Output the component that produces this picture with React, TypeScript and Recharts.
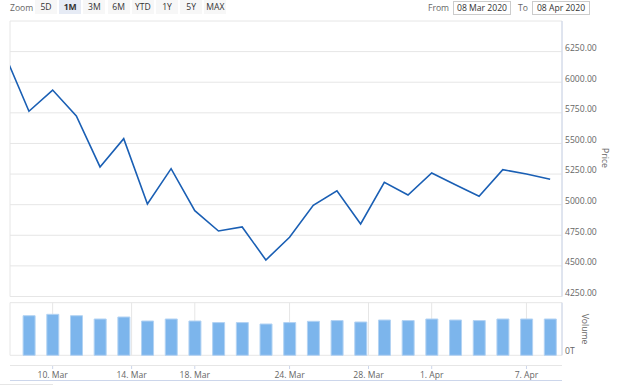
import { Bar, CartesianGrid, ComposedChart, Line, XAxis, YAxis } from "recharts";

// trading days shown in the 1M window (first one sits just left of the plot)
const dates = [
    "06 Mar", "09 Mar", "10 Mar", "11 Mar", "12 Mar", "13 Mar",
    "16 Mar", "17 Mar", "18 Mar", "19 Mar", "20 Mar",
    "23 Mar", "24 Mar", "25 Mar", "26 Mar", "27 Mar",
    "30 Mar", "31 Mar", "01 Apr", "02 Apr", "03 Apr",
    "06 Apr", "07 Apr", "08 Apr",
];
const prices = [
    6217, 5763, 5936, 5724, 5308, 5539,
    5005, 5294, 4951, 4785, 4818,
    4548, 4734, 4995, 5114, 4842,
    5183, 5079, 5259, 5163, 5068,
    5286, 5250, 5207,
];
const volumes = [
    null, 7.53, 7.79, 7.53, 6.9, 7.28,
    6.52, 6.9, 6.52, 6.22, 6.22,
    5.95, 6.22, 6.46, 6.6, 6.33,
    6.71, 6.6, 6.9, 6.71, 6.6,
    6.9, 6.9, 6.9,
];
// ordinal positions of the axis labels (weekend dates fall between trading days)
const tickPositions = [2, 5.333, 8, 12, 15.333, 18, 22];
const tickLabels = ["10. Mar", "14. Mar", "18. Mar", "24. Mar", "28. Mar", "1. Apr", "7. Apr"];
const priceTicks = [4250, 4500, 4750, 5000, 5250, 5500, 5750, 6000, 6250, 6500];
const zoomButtons = ["5D", "1M", "3M", "6M", "YTD", "1Y", "5Y", "MAX"];

const rows = dates.map((date, i) => ({ i, date, price: prices[i], volume: volumes[i] }));

const FONT = "'Open Sans', 'DejaVu Sans', sans-serif";
const xDomain: [number, number] = [0.2, 23.5];

function PriceTick({ y, payload }: any) {
    if (payload.value === 6500) return <g />;
    return (
        <text x={565} y={y - 3} fill="#666" fontSize={8.6} fontFamily={FONT} dominantBaseline="middle">
            {payload.value.toFixed(2)}
        </text>
    );
}

function VolumeTick({ y, payload }: any) {
    if (payload.value !== 0) return <g />;
    return (
        <text x={565} y={y - 4} fill="#666" fontSize={8.6} fontFamily={FONT} dominantBaseline="middle">
            0T
        </text>
    );
}

function DateTick({ x, payload }: any) {
    const label = tickLabels[tickPositions.indexOf(payload.value)];
    return (
        <g>
            <line x1={x} x2={x} y1={65} y2={69} stroke="#ccd6eb" />
            <text x={x} y={76} textAnchor="middle" dominantBaseline="middle" fill="#666" fontSize={8.6} fontFamily={FONT}>
                {label}
            </text>
        </g>
    );
}

// rotated axis title, like Highcharts puts on an opposite axis
function axisTitle(text: string, x: number, y: number) {
    return () => (
        <text
            x={x}
            y={y}
            transform={`rotate(90, ${x}, ${y})`}
            textAnchor="middle"
            dominantBaseline="middle"
            fill="#666"
            fontSize={8.6}
            fontFamily={FONT}
        >
            {text}
        </text>
    );
}

function Toolbar() {
    return (
        <div style={{ position: "absolute", left: 0, top: 0, width: 624, height: 16, fontFamily: FONT, fontSize: 8.6 }}>
            <span style={{ position: "absolute", left: 10, top: 2, color: "#666" }}>Zoom</span>
            {zoomButtons.map((b, k) => {
                const active = b === "1M";
                return (
                    <div
                        key={b}
                        style={{
                            position: "absolute",
                            left: 35 + k * 24.2,
                            top: 0,
                            width: 22,
                            height: 14,
                            lineHeight: "14px",
                            textAlign: "center",
                            background: active ? "#e6ebf5" : "#f7f7f7",
                            color: "#333",
                            fontWeight: active ? 700 : 400,
                        }}
                    >
                        {b}
                    </div>
                );
            })}
            <span style={{ position: "absolute", left: 428, top: 2, color: "#666" }}>From</span>
            <div style={boxStyle(453)}>08 Mar 2020</div>
            <span style={{ position: "absolute", left: 518, top: 2, color: "#666" }}>To</span>
            <div style={boxStyle(532)}>08 Apr 2020</div>
        </div>
    );
}

function boxStyle(left: number): React.CSSProperties {
    return {
        position: "absolute",
        left,
        top: 1,
        width: 56,
        height: 12,
        lineHeight: "12px",
        textAlign: "center",
        border: "1px solid #cccccc",
        color: "#333",
        background: "#fff",
    };
}

export default function App() {
    return (
        <div style={{ position: "fixed", left: 0, top: 0, width: 624, height: 386, background: "#fff", overflow: "hidden" }}>
            <Toolbar />
            <div style={{ position: "absolute", left: 0, top: 0 }}>
                <ComposedChart width={624} height={300} data={rows} margin={{ top: 21, right: 0, left: 10, bottom: 3.5 }}>
                    <CartesianGrid stroke="#e6e6e6" />
                    <XAxis
                        dataKey="i"
                        type="number"
                        domain={xDomain}
                        allowDataOverflow
                        ticks={tickPositions}
                        height={0}
                        tick={false}
                        axisLine={false}
                        tickLine={false}
                    />
                    <YAxis
                        orientation="right"
                        width={62}
                        domain={[4250, 6500]}
                        ticks={priceTicks}
                        interval={0}
                        tick={<PriceTick />}
                        tickLine={false}
                        axisLine={{ stroke: "#ccd6eb" }}
                        label={{ content: axisTitle("Price", 604, 158) }}
                    />
                    <Line dataKey="price" stroke="#1a5fb4" strokeWidth={1.6} dot={false} isAnimationActive={false} />
                </ComposedChart>
            </div>
            <div style={{ position: "absolute", left: 0, top: 300 }}>
                <ComposedChart width={624} height={86} data={rows} margin={{ top: 2.7, right: 0, left: 10, bottom: 0 }}>
                    <CartesianGrid stroke="#e6e6e6" />
                    <XAxis
                        dataKey="i"
                        type="number"
                        domain={xDomain}
                        allowDataOverflow
                        ticks={tickPositions}
                        interval={0}
                        height={30.7}
                        tick={<DateTick />}
                        axisLine={false}
                        tickLine={false}
                    />
                    <YAxis
                        orientation="right"
                        width={62}
                        domain={[0, 10]}
                        ticks={[0, 10]}
                        tick={<VolumeTick />}
                        tickLine={false}
                        axisLine={{ stroke: "#ccd6eb" }}
                        label={{ content: axisTitle("Volume", 584, 29) }}
                    />
                    <Bar dataKey="volume" fill="#7cb5ec" stroke="#b3d3f3" strokeWidth={1} barSize={12} isAnimationActive={false} />
                </ComposedChart>
            </div>
            <div style={{ position: "absolute", left: 10, top: 365, width: 552, height: 1, background: "#e6e6e6" }} />
            <div style={{ position: "absolute", left: 10, top: 380, width: 552, height: 1, background: "#ccd6eb" }} />
            <div style={{ position: "absolute", left: 0, top: 384, width: 53, height: 1, background: "#e6e6e6" }} />
        </div>
    );
}
